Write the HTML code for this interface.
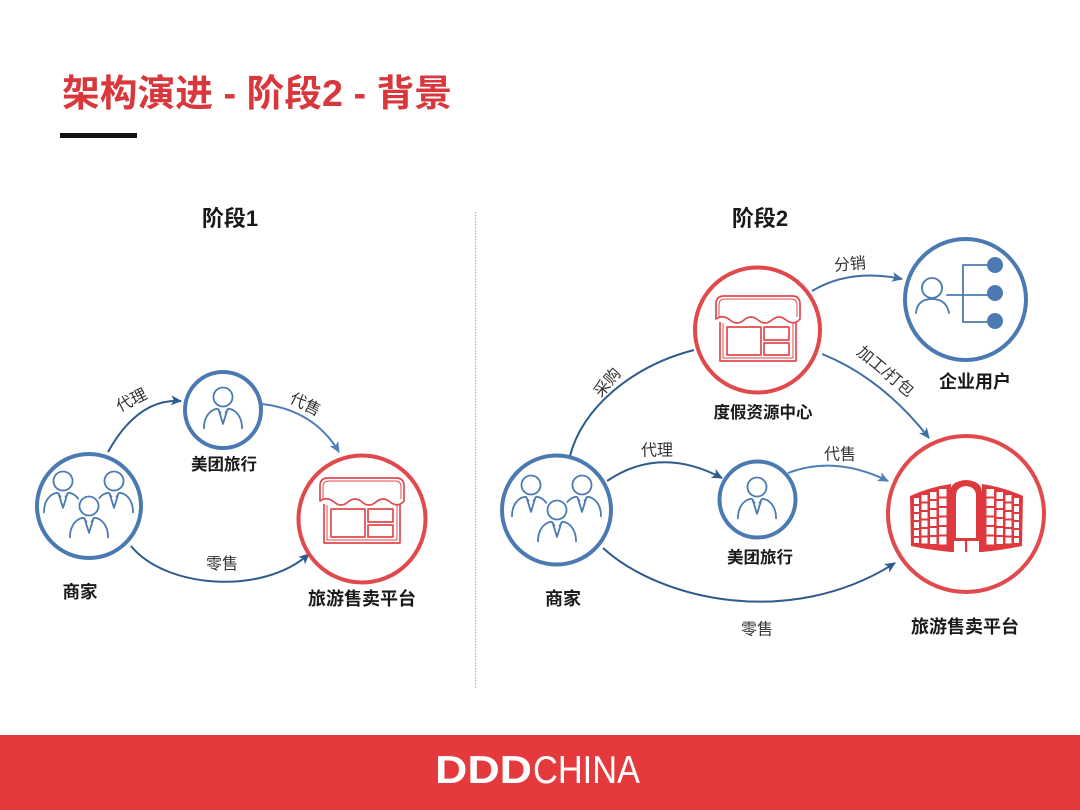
<!DOCTYPE html>
<html>
<head>
<meta charset="utf-8">
<style>
  html,body{margin:0;padding:0;background:#fff;}
  svg{display:block;}
  .t{font-family:"Liberation Sans","Noto Sans CJK SC",sans-serif;}
</style>
</head>
<body>
<svg width="1080" height="810" viewBox="0 0 1080 810" xmlns="http://www.w3.org/2000/svg">
  <defs>
    <marker id="ad" viewBox="0 0 10 10" refX="9" refY="5" markerWidth="11" markerHeight="11" markerUnits="userSpaceOnUse" orient="auto">
      <path d="M0,0.5 L10,5 L0,9.5 L2.5,5 z" fill="#2d5c8c"/>
    </marker>
    <marker id="al" viewBox="0 0 10 10" refX="9" refY="5" markerWidth="11" markerHeight="11" markerUnits="userSpaceOnUse" orient="auto">
      <path d="M0,0.5 L10,5 L0,9.5 L2.5,5 z" fill="#4f80b8"/>
    </marker>
    <marker id="am" viewBox="0 0 10 10" refX="9" refY="5" markerWidth="11" markerHeight="11" markerUnits="userSpaceOnUse" orient="auto">
      <path d="M0,0.5 L10,5 L0,9.5 L2.5,5 z" fill="#3f6fa5"/>
    </marker>
    <g id="store" fill="none" stroke="#e04a4d" stroke-width="1.7" stroke-linejoin="round">
      <path d="M320,501 L320,486 Q320,478 328,478 L396,478 Q404,478 404,486 L404,501 Q398,508 390,502 Q383,496 376,502 Q369,508 362,502 Q355,496 348,502 Q341,508 334,502 Q327,496 320,501 Z"/>
      <path d="M323,499 L323,487 Q323,481 329,481 L395,481 Q401,481 401,487 L401,499" stroke-width="1"/>
      <path d="M324,504 L324,543 L400,543 L400,504"/>
      <path d="M327,505 L327,540 L397,540 L397,505" stroke-width="1"/>
      <rect x="331" y="509" width="34" height="28"/>
      <rect x="368" y="509" width="25" height="13"/>
      <rect x="368" y="525" width="25" height="12"/>
    </g>
    <g id="person0" fill="none" stroke="#4b79b1" stroke-width="1.6" stroke-linecap="round" stroke-linejoin="round">
      <circle cx="0" cy="0" r="8.5" fill="#fff"/>
      <path d="M-17,28 C-17,16 -10,11 -5,10.5 M5,10.5 C10,11 17,16 17,28"/>
      <path d="M-4,11 L0,24 L4,11"/>
      <path d="M-5,10.5 L-2,14 M5,10.5 L2,14" stroke-width="1.2"/>
    </g>
    <g id="person"><use href="#person0" transform="scale(1.12)"/></g>
    <g id="cover"><g transform="scale(1.12)">
      <circle cx="0" cy="0" r="11" fill="#fff"/>
      <path d="M-19,28 C-19,14 -10,9 0,9 C10,9 19,14 19,28 Z" fill="#fff"/>
    </g></g>
  </defs>

  <!-- Title -->
  <text class="t" x="62" y="106" font-size="37" font-weight="bold" fill="#d8383c" textLength="390" lengthAdjust="spacingAndGlyphs">架构演进 - 阶段2 - 背景</text>
  <rect x="60" y="133" width="77" height="5" fill="#111"/>

  <!-- Stage headings -->
  <text class="t" x="230" y="226" font-size="22" font-weight="bold" fill="#1a1a1a" text-anchor="middle">阶段1</text>
  <text class="t" x="760" y="226" font-size="22" font-weight="bold" fill="#1a1a1a" text-anchor="middle">阶段2</text>

  <!-- Divider -->
  <line x1="475.5" y1="212" x2="475.5" y2="688" stroke="#e39a9a" stroke-width="1.2" stroke-dasharray="1.5 1.5"/>

  <!-- ============ LEFT DIAGRAM ============ -->
  <path d="M108,452 Q138,398 181,401" fill="none" stroke="#2d5c8c" stroke-width="2" marker-end="url(#ad)"/>
  <path d="M262,404 Q314,410 339,452" fill="none" stroke="#4f80b8" stroke-width="2" marker-end="url(#al)"/>
  <path d="M131,546 C165,588 262,596 309,554" fill="none" stroke="#2d5c8c" stroke-width="2" marker-end="url(#ad)"/>

  <circle cx="89" cy="506" r="52" fill="#fff" stroke="#4b79b1" stroke-width="4"/>
  <circle cx="223" cy="410" r="38" fill="#fff" stroke="#4b79b1" stroke-width="4"/>
  <circle cx="362" cy="519" r="63.5" fill="#fff" stroke="#e04a4d" stroke-width="4"/>

  <!-- merchant icon (left) -->
  <use href="#person" x="63" y="481"/>
  <use href="#person" x="114" y="481"/>
  <use href="#cover" x="89" y="506"/>
  <use href="#person" x="89" y="506"/>

  <use href="#person" x="223" y="397"/>

  <use href="#store"/>

  <text class="t" x="132" y="401" font-size="16" fill="#333" text-anchor="middle" dominant-baseline="central" transform="rotate(-27 132 401)">代理</text>
  <text class="t" x="305" y="405" font-size="16" fill="#333" text-anchor="middle" dominant-baseline="central" transform="rotate(27 305 405)">代售</text>
  <text class="t" x="222" y="569" font-size="16" fill="#333" text-anchor="middle">零售</text>

  <text class="t" x="80" y="598" font-size="17.5" font-weight="bold" fill="#1a1a1a" text-anchor="middle">商家</text>
  <text class="t" x="224" y="470" font-size="16.5" font-weight="bold" fill="#1a1a1a" text-anchor="middle">美团旅行</text>
  <text class="t" x="362" y="605" font-size="18" font-weight="bold" fill="#1a1a1a" text-anchor="middle">旅游售卖平台</text>

  <!-- ============ RIGHT DIAGRAM ============ -->
  <path d="M570,456 C582,408 632,366 694,350" fill="none" stroke="#2d5c8c" stroke-width="2"/>
  <path d="M812,291 Q850,268 902,279" fill="none" stroke="#3f6fa5" stroke-width="2" marker-end="url(#am)"/>
  <path d="M822,354 Q882,378 929,438" fill="none" stroke="#3f6fa5" stroke-width="2" marker-end="url(#am)"/>
  <path d="M607,481 Q660,445 722,478" fill="none" stroke="#2d5c8c" stroke-width="2" marker-end="url(#ad)"/>
  <path d="M788,473 Q835,455 888,481" fill="none" stroke="#4f80b8" stroke-width="2" marker-end="url(#al)"/>
  <path d="M603,548 C660,600 790,630 895,563" fill="none" stroke="#2d5c8c" stroke-width="2" marker-end="url(#ad)"/>

  <circle cx="757.5" cy="330" r="62.5" fill="#fff" stroke="#e04a4d" stroke-width="4"/>
  <circle cx="965.5" cy="299.5" r="60.5" fill="#fff" stroke="#4b79b1" stroke-width="4"/>
  <circle cx="556.5" cy="510" r="54.5" fill="#fff" stroke="#4b79b1" stroke-width="4"/>
  <circle cx="757.5" cy="499.5" r="38" fill="#fff" stroke="#4b79b1" stroke-width="4"/>
  <circle cx="966" cy="514" r="78" fill="#fff" stroke="#e04a4d" stroke-width="4"/>

  <use href="#store" transform="translate(396,-182)"/>

  <!-- enterprise user icon -->
  <g fill="none" stroke="#4b79b1" stroke-width="1.8" stroke-linecap="round">
    <circle cx="932" cy="288" r="10"/>
    <path d="M916,313 C917,302 924,299 932,299 C940,299 947,302 949,313"/>
    <path d="M947,295 L963,295 M963,265 L963,322 M963,265 L988,265 M963,295 L988,295 M963,322 L988,322"/>
  </g>
  <circle cx="995" cy="265" r="8" fill="#4b79b1"/>
  <circle cx="995" cy="293" r="8" fill="#4b79b1"/>
  <circle cx="995" cy="321" r="8" fill="#4b79b1"/>

  <!-- merchant icon (right) -->
  <use href="#person" x="531" y="485"/>
  <use href="#person" x="582" y="485"/>
  <use href="#cover" x="557" y="510"/>
  <use href="#person" x="557" y="510"/>

  <use href="#person" x="757" y="487"/>

  <!-- building icon -->
  <g>
    <path d="M910,496 Q930,487 951,484 L951,552 Q930,550 911,546 Z" fill="#e0393d"/>
    <path d="M1023,496 Q1003,487 982,484 L982,552 Q1003,550 1022,546 Z" fill="#e0393d"/>
    <path d="M950,552 L950,493 Q950,481 966,480 Q982,481 982,493 L982,552 Z" fill="#e0393d"/>
    <path d="M956,538 L956,496 Q956,487 966,486 Q976,487 976,496 L976,538 Z" fill="#fff"/>
    <rect x="954" y="541" width="25" height="12" fill="#fff"/>
    <rect x="965" y="541" width="2.2" height="11" fill="#e0393d"/>
    <g fill="#fff">
      <rect x="914" y="498" width="5" height="6"/><rect x="914" y="506" width="5" height="6"/><rect x="914" y="514" width="5" height="6"/><rect x="914" y="522" width="5" height="6"/><rect x="914" y="530" width="5" height="6"/><rect x="914" y="538" width="5" height="5"/>
      <rect x="921.5" y="495" width="6" height="6.5"/><rect x="921.5" y="503.5" width="6" height="6.5"/><rect x="921.5" y="512" width="6" height="6.5"/><rect x="921.5" y="520.5" width="6" height="6.5"/><rect x="921.5" y="529" width="6" height="6.5"/><rect x="921.5" y="537.5" width="6" height="6"/>
      <rect x="930" y="492" width="6.5" height="7"/><rect x="930" y="501" width="6.5" height="7"/><rect x="930" y="510" width="6.5" height="7"/><rect x="930" y="519" width="6.5" height="7"/><rect x="930" y="528" width="6.5" height="7"/><rect x="930" y="537" width="6.5" height="7"/>
      <rect x="939" y="489" width="7.5" height="7.5"/><rect x="939" y="498.5" width="7.5" height="7.5"/><rect x="939" y="508" width="7.5" height="7.5"/><rect x="939" y="517.5" width="7.5" height="7.5"/><rect x="939" y="527" width="7.5" height="7.5"/><rect x="939" y="536.5" width="7.5" height="8"/>
      <rect x="1014" y="498" width="5" height="6"/><rect x="1014" y="506" width="5" height="6"/><rect x="1014" y="514" width="5" height="6"/><rect x="1014" y="522" width="5" height="6"/><rect x="1014" y="530" width="5" height="6"/><rect x="1014" y="538" width="5" height="5"/>
      <rect x="1005.5" y="495" width="6" height="6.5"/><rect x="1005.5" y="503.5" width="6" height="6.5"/><rect x="1005.5" y="512" width="6" height="6.5"/><rect x="1005.5" y="520.5" width="6" height="6.5"/><rect x="1005.5" y="529" width="6" height="6.5"/><rect x="1005.5" y="537.5" width="6" height="6"/>
      <rect x="996.5" y="492" width="6.5" height="7"/><rect x="996.5" y="501" width="6.5" height="7"/><rect x="996.5" y="510" width="6.5" height="7"/><rect x="996.5" y="519" width="6.5" height="7"/><rect x="996.5" y="528" width="6.5" height="7"/><rect x="996.5" y="537" width="6.5" height="7"/>
      <rect x="986.5" y="489" width="7.5" height="7.5"/><rect x="986.5" y="498.5" width="7.5" height="7.5"/><rect x="986.5" y="508" width="7.5" height="7.5"/><rect x="986.5" y="517.5" width="7.5" height="7.5"/><rect x="986.5" y="527" width="7.5" height="7.5"/><rect x="986.5" y="536.5" width="7.5" height="8"/>
    </g>
  </g>

  <text class="t" x="608" y="383" font-size="16" fill="#333" text-anchor="middle" dominant-baseline="central" transform="rotate(-50 608 383)">采购</text>
  <text class="t" x="850" y="265" font-size="16" fill="#333" text-anchor="middle" dominant-baseline="central" transform="rotate(-5 850 265)">分销</text>
  <text class="t" x="885" y="372" font-size="16" fill="#333" text-anchor="middle" dominant-baseline="central" transform="rotate(40 885 372)">加工/打包</text>
  <text class="t" x="657" y="451" font-size="16" fill="#333" text-anchor="middle" dominant-baseline="central">代理</text>
  <text class="t" x="840" y="455" font-size="16" fill="#333" text-anchor="middle" dominant-baseline="central">代售</text>
  <text class="t" x="757" y="630" font-size="16" fill="#333" text-anchor="middle" dominant-baseline="central">零售</text>

  <text class="t" x="763" y="418" font-size="16.5" font-weight="bold" fill="#1a1a1a" text-anchor="middle">度假资源中心</text>
  <text class="t" x="975" y="388" font-size="18" font-weight="bold" fill="#1a1a1a" text-anchor="middle">企业用户</text>
  <text class="t" x="563" y="605" font-size="18" font-weight="bold" fill="#1a1a1a" text-anchor="middle">商家</text>
  <text class="t" x="760" y="563" font-size="16.5" font-weight="bold" fill="#1a1a1a" text-anchor="middle">美团旅行</text>
  <text class="t" x="965" y="633" font-size="18" font-weight="bold" fill="#1a1a1a" text-anchor="middle">旅游售卖平台</text>

  <!-- Footer -->
  <rect x="0" y="735" width="1080" height="75" fill="#e53a3d"/>
  <text class="t" x="435" y="783" font-size="39" font-weight="bold" fill="#fff" textLength="97" lengthAdjust="spacingAndGlyphs">DDD</text>
  <text class="t" x="533" y="783" font-size="39" fill="#fff" textLength="107" lengthAdjust="spacingAndGlyphs">CHINA</text>
</svg>
</body>
</html>
